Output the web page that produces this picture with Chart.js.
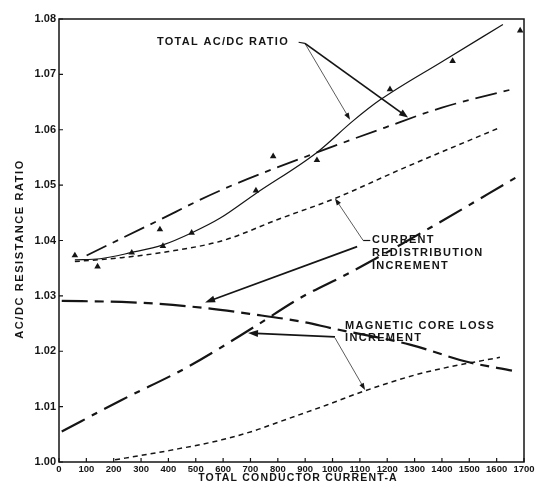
<!DOCTYPE html>
<html>
<head>
<meta charset="utf-8">
<script src="https://cdn.jsdelivr.net/npm/chart.js@4/dist/chart.umd.min.js"></script>
<style>
    html, body { margin: 0; padding: 0; background: #fff; }
    #wrap { width: 539px; height: 485px; position: relative; }
</style>
</head>
<body>
<div id="wrap"><canvas id="chart"></canvas></div>
<script>
"use strict";

// --------------------------------------------------------------------------
// Data
// --------------------------------------------------------------------------
var xTicks = [0, 100, 200, 300, 400, 500, 600, 700, 800, 900, 1000, 1100, 1200, 1300, 1400, 1500, 1600, 1700];
var yTicks = [1.00, 1.01, 1.02, 1.03, 1.04, 1.05, 1.06, 1.07, 1.08];

// measured points (triangles)
var measuredCurrent = [58, 141, 266, 369, 380, 485, 720, 783, 943, 1210, 1439, 1686];
var measuredRatio = [1.0373, 1.0353, 1.0378, 1.0420, 1.0390, 1.0414, 1.0490, 1.0552, 1.0545, 1.0673, 1.0724, 1.0779];

// total AC/DC ratio, solid curve
var totalCurrent = [58, 150, 263, 380, 486, 588, 720, 943, 1075, 1174, 1400, 1623];
var totalRatio = [1.0365, 1.0367, 1.0378, 1.0392, 1.0414, 1.0440, 1.0485, 1.0559, 1.0616, 1.0654, 1.0723, 1.0790];

// total AC/DC ratio, chain curve
var totalChainCurrent = [101, 350, 588, 943, 1192, 1400, 1656];
var totalChainRatio = [1.0373, 1.0433, 1.0490, 1.0559, 1.0604, 1.0640, 1.0673];

// current redistribution increment, short dashes
var redistCurrent = [58, 229, 400, 600, 800, 1009, 1247, 1612];
var redistRatio = [1.0362, 1.0369, 1.0380, 1.0400, 1.0438, 1.0476, 1.0528, 1.0604];

// current redistribution increment, long chain
var redistChainCurrent = [10, 229, 472, 717, 881, 1064, 1357, 1675];
var redistChainRatio = [1.0055, 1.0112, 1.0172, 1.0245, 1.0296, 1.0342, 1.0423, 1.0515];

// magnetic core loss increment, long dashes
var coreCurrent = [10, 229, 351, 534, 705, 881, 1002, 1283, 1491, 1656];
var coreRatio = [1.0291, 1.0289, 1.0286, 1.0278, 1.0267, 1.0254, 1.0241, 1.0212, 1.0181, 1.0165];

// magnetic core loss increment, short dashes
var coreLowCurrent = [205, 314, 406, 595, 717, 808, 979, 1115, 1308, 1430, 1612];
var coreLowRatio = [1.0004, 1.0013, 1.0021, 1.0040, 1.0057, 1.0073, 1.0103, 1.0128, 1.0158, 1.0172, 1.0189];

var INK = '#151515';
var FONT = '"Liberation Sans", Arial, sans-serif';

function toPoints(xs, ys) {
    return xs.map(function (x, i) { return {x: x, y: ys[i]}; });
}

function curve(xs, ys, dash, width) {
    return {
        type: 'line',
        data: toPoints(xs, ys),
        borderColor: INK,
        borderWidth: width,
        borderDash: dash,
        pointRadius: 0,
        cubicInterpolationMode: 'monotone',
        fill: false,
    };
}

// --------------------------------------------------------------------------
// Drawing helpers for the frame, inner ticks and callouts
// --------------------------------------------------------------------------
function arrow(ctx, x1, y1, x2, y2, width, headLen, headHalf) {
    var ang = Math.atan2(y2 - y1, x2 - x1);
    ctx.save();
    ctx.strokeStyle = INK;
    ctx.fillStyle = INK;
    ctx.lineWidth = width;
    ctx.setLineDash([]);
    ctx.beginPath();
    ctx.moveTo(x1, y1);
    ctx.lineTo(x2 - Math.cos(ang) * headLen * 0.8, y2 - Math.sin(ang) * headLen * 0.8);
    ctx.stroke();
    ctx.beginPath();
    ctx.moveTo(x2, y2);
    ctx.lineTo(x2 - Math.cos(ang) * headLen - Math.sin(ang) * headHalf,
               y2 - Math.sin(ang) * headLen + Math.cos(ang) * headHalf);
    ctx.lineTo(x2 - Math.cos(ang) * headLen + Math.sin(ang) * headHalf,
               y2 - Math.sin(ang) * headLen - Math.cos(ang) * headHalf);
    ctx.closePath();
    ctx.fill();
    ctx.restore();
}

function seg(ctx, x1, y1, x2, y2, width) {
    ctx.save();
    ctx.strokeStyle = INK;
    ctx.lineWidth = width;
    ctx.beginPath();
    ctx.moveTo(x1, y1);
    ctx.lineTo(x2, y2);
    ctx.stroke();
    ctx.restore();
}

function label(ctx, text, x, y) {
    ctx.save();
    ctx.fillStyle = INK;
    ctx.font = 'bold 11px ' + FONT;
    ctx.letterSpacing = '1.3px';
    ctx.textAlign = 'left';
    ctx.textBaseline = 'middle';
    ctx.fillText(text, x, y);
    ctx.restore();
}

var decorations = {
    id: 'decorations',
    afterDraw: function (chart) {
        var ctx = chart.ctx;
        var a = chart.chartArea;
        var sx = chart.scales.x;
        var sy = chart.scales.y;
        var X = function (v) { return sx.getPixelForValue(v); };
        var Y = function (v) { return sy.getPixelForValue(v); };

        // frame
        ctx.save();
        ctx.strokeStyle = INK;
        ctx.lineWidth = 1.5;
        ctx.strokeRect(a.left, a.top, a.right - a.left, a.bottom - a.top);

        // inward tick marks
        ctx.lineWidth = 1.2;
        ctx.beginPath();
        xTicks.forEach(function (t) {
            ctx.moveTo(X(t), a.bottom);
            ctx.lineTo(X(t), a.bottom - 4);
        });
        yTicks.forEach(function (t) {
            ctx.moveTo(a.left, Y(t));
            ctx.lineTo(a.left + 4, Y(t));
        });
        ctx.stroke();

        // axis titles
        ctx.fillStyle = INK;
        ctx.font = 'bold 10.5px ' + FONT;
        ctx.letterSpacing = '1.2px';
        ctx.textAlign = 'center';
        ctx.textBaseline = 'middle';
        ctx.fillText('TOTAL CONDUCTOR CURRENT-A', 298, 478);
        ctx.font = 'bold 11px ' + FONT;
        ctx.letterSpacing = '1.6px';
        ctx.translate(20, 249);
        ctx.rotate(-Math.PI / 2);
        ctx.fillText('AC/DC RESISTANCE RATIO', 0, 0);
        ctx.restore();

        // TOTAL AC/DC RATIO callout
        label(ctx, 'TOTAL AC/DC RATIO', X(358), Y(1.0759));
        seg(ctx, X(876), Y(1.0758), X(899), Y(1.0756), 1.2);
        arrow(ctx, X(899), Y(1.0756), X(1064), Y(1.0618), 0.7, 7, 2.5);
        arrow(ctx, X(899), Y(1.0756), X(1276), Y(1.0622), 1.8, 9, 3.5);

        // CURRENT REDISTRIBUTION INCREMENT callout
        label(ctx, 'CURRENT', X(1144), Y(1.0401));
        label(ctx, 'REDISTRIBUTION', X(1144), Y(1.0378));
        label(ctx, 'INCREMENT', X(1144), Y(1.0354));
        seg(ctx, X(1112), Y(1.0400), X(1138), Y(1.0400), 1.2);
        arrow(ctx, X(1112), Y(1.0400), X(1009), Y(1.0476), 0.7, 7, 2.5);
        arrow(ctx, X(1090), Y(1.0389), X(534), Y(1.0288), 1.8, 10, 3.5);

        // MAGNETIC CORE LOSS INCREMENT callout
        label(ctx, 'MAGNETIC CORE LOSS', X(1046), Y(1.02465));
        label(ctx, 'INCREMENT', X(1046), Y(1.02237));
        arrow(ctx, X(1009), Y(1.0226), X(691), Y(1.0233), 1.8, 10, 3.5);
        arrow(ctx, X(1009), Y(1.0224), X(1119), Y(1.0130), 0.7, 7, 2.5);
    }
};

new Chart(document.getElementById('chart'), {
    data: {
        datasets: [
            curve(totalCurrent, totalRatio, [], 1.2),
            curve(totalChainCurrent, totalChainRatio, [22, 7, 6, 7], 1.8),
            curve(redistCurrent, redistRatio, [5, 4], 1.5),
            curve(redistChainCurrent, redistChainRatio, [26, 8, 6, 8], 2.2),
            curve(coreCurrent, coreRatio, [26, 7, 9, 7], 2.2),
            curve(coreLowCurrent, coreLowRatio, [5, 4], 1.5),
            {
                type: 'scatter',
                data: toPoints(measuredCurrent, measuredRatio),
                pointStyle: 'triangle',
                pointRadius: 3.8,
                backgroundColor: INK,
                borderColor: INK,
                borderWidth: 0,
            },
        ]
    },
    options: {
        responsive: true,
        maintainAspectRatio: false,
        animation: false,
        events: [],
        layout: {padding: {top: 19, right: 15, left: 0, bottom: 0}},
        plugins: {legend: {display: false}, tooltip: {enabled: false}},
        scales: {
            x: {
                type: 'linear',
                min: 0,
                max: 1700,
                afterFit: function (scale) { scale.height = 23; },
                afterBuildTicks: function (scale) {
                    scale.ticks = xTicks.map(function (v) { return {value: v}; });
                },
                grid: {display: false, drawTicks: false},
                border: {display: false},
                ticks: {
                    padding: 2,
                    maxRotation: 0,
                    autoSkip: false,
                    color: INK,
                    font: {family: FONT, size: 9.5, weight: 'bold'},
                    callback: function (v) { return String(v); }
                }
            },
            y: {
                type: 'linear',
                min: 1.00,
                max: 1.08,
                afterFit: function (scale) { scale.width = 59; },
                afterBuildTicks: function (scale) {
                    scale.ticks = yTicks.map(function (v) { return {value: v}; });
                },
                grid: {display: false, drawTicks: false},
                border: {display: false},
                ticks: {
                    padding: 3,
                    autoSkip: false,
                    color: INK,
                    font: {family: FONT, size: 11, weight: 'bold'},
                    callback: function (v) { return v.toFixed(2); }
                }
            }
        }
    },
    plugins: [decorations]
});
</script>
</body>
</html>
